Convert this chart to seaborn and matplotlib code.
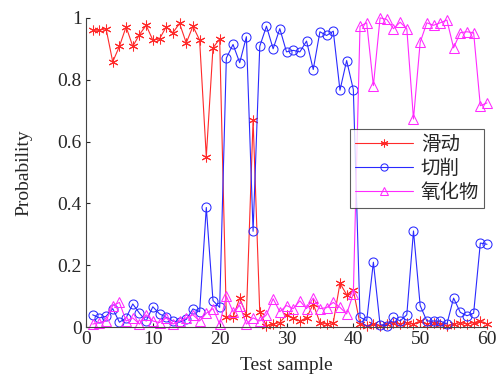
import matplotlib
matplotlib.use('Agg')
import matplotlib.pyplot as plt
from matplotlib.ticker import FormatStrFormatter
import seaborn as sns
import pandas as pd

# data
sample = list(range(1, 61))

slide = [0.96, 0.96, 0.965, 0.858, 0.908, 0.971, 0.908, 0.946, 0.976, 0.928,
         0.932, 0.971, 0.952, 0.982, 0.919, 0.973, 0.928, 0.551, 0.903, 0.932,
         0.032, 0.032, 0.094, 0.04, 0.67, 0.048, 0.005, 0.01, 0.015, 0.04,
         0.03, 0.02, 0.03, 0.075, 0.015, 0.01, 0.015, 0.142, 0.105, 0.12,
         0.01, 0.005, 0.01, 0.005, 0.01, 0.015, 0.01, 0.015, 0.01, 0.02,
         0.01, 0.015, 0.01, 0.005, 0.01, 0.015, 0.01, 0.015, 0.02, 0.01]

cut = [0.04, 0.03, 0.035, 0.06, 0.016, 0.03, 0.075, 0.045, 0.02, 0.066,
       0.043, 0.032, 0.02, 0.016, 0.025, 0.059, 0.05, 0.387, 0.086, 0.064,
       0.87, 0.914, 0.855, 0.939, 0.31, 0.908, 0.973, 0.9, 0.965, 0.89,
       0.895, 0.89, 0.925, 0.833, 0.955, 0.943, 0.957, 0.766, 0.862, 0.768,
       0.032, 0.021, 0.21, 0.008, 0.005, 0.032, 0.02, 0.04, 0.311, 0.07,
       0.02, 0.02, 0.02, 0.01, 0.094, 0.048, 0.037, 0.045, 0.272, 0.268]

oxide = [0.01, 0.015, 0.02, 0.07, 0.08, 0.02, 0.03, 0.01, 0.04, 0.02,
         0.015, 0.03, 0.01, 0.02, 0.03, 0.04, 0.02, 0.045, 0.06, 0.01,
         0.1, 0.05, 0.07, 0.01, 0.03, 0.02, 0.04, 0.092, 0.05, 0.07,
         0.06, 0.085, 0.06, 0.094, 0.06, 0.063, 0.08, 0.064, 0.043, 0.108,
         0.973, 0.984, 0.781, 1.0, 0.995, 0.965, 0.986, 0.965, 0.673, 0.921,
         0.984, 0.976, 0.984, 0.993, 0.903, 0.952, 0.955, 0.952, 0.716, 0.725]

labels = ['滑动', '切削', '氧化物']

sns.set_style('ticks')
plt.rcParams['font.family'] = ['Liberation Serif', 'Noto Sans CJK SC']

df = pd.DataFrame({'x': sample, labels[0]: slide, labels[1]: cut, labels[2]: oxide})

fig = plt.figure(figsize=(5, 3.8), dpi=100)
ax = fig.add_axes([0.172, 0.139, 0.802, 0.814])

# red asterisk / blue open circle / magenta open triangle
sns.lineplot(data=df, x='x', y=labels[0], ax=ax, color='#ff2a2a', lw=0.8,
             marker=(6, 2, 0), markersize=7, mec='#ff2a2a', label=labels[0], clip_on=False)
sns.lineplot(data=df, x='x', y=labels[1], ax=ax, color='#2a2aff', lw=0.8,
             marker='o', markersize=6.5, mfc='none', mec='#2a2aff', label=labels[1], clip_on=False)
sns.lineplot(data=df, x='x', y=labels[2], ax=ax, color='#ff2aff', lw=0.8,
             marker='^', markersize=7, mfc='none', mec='#ff2aff', label=labels[2], clip_on=False)

ax.set_xlim(0, 60)
ax.set_ylim(0, 1)
ax.set_xticks(range(0, 61, 10))
ax.set_yticks([0, 0.2, 0.4, 0.6, 0.8, 1])
ax.yaxis.set_major_formatter(FormatStrFormatter('%g'))
ax.tick_params(direction='in', labelsize=14, length=3, pad=3)
ax.set_xlabel('Test sample', fontsize=14, labelpad=6)
ax.set_ylabel('Probability', fontsize=14, labelpad=18)
sns.despine(ax=ax)
for s in ['left', 'bottom']:
    ax.spines[s].set_color('#444444')

leg = ax.legend(loc='upper right', bbox_to_anchor=(0.993, 0.64), borderaxespad=0,
                frameon=True, fancybox=False, edgecolor='#333333',
                prop={'family': ['Noto Sans CJK SC'], 'size': 14},
                handlelength=3.0, borderpad=0.25, labelspacing=0.15,
                handletextpad=0.4, markerscale=0.8)
leg.get_frame().set_linewidth(0.8)

fig.savefig('out.png', dpi=100)
